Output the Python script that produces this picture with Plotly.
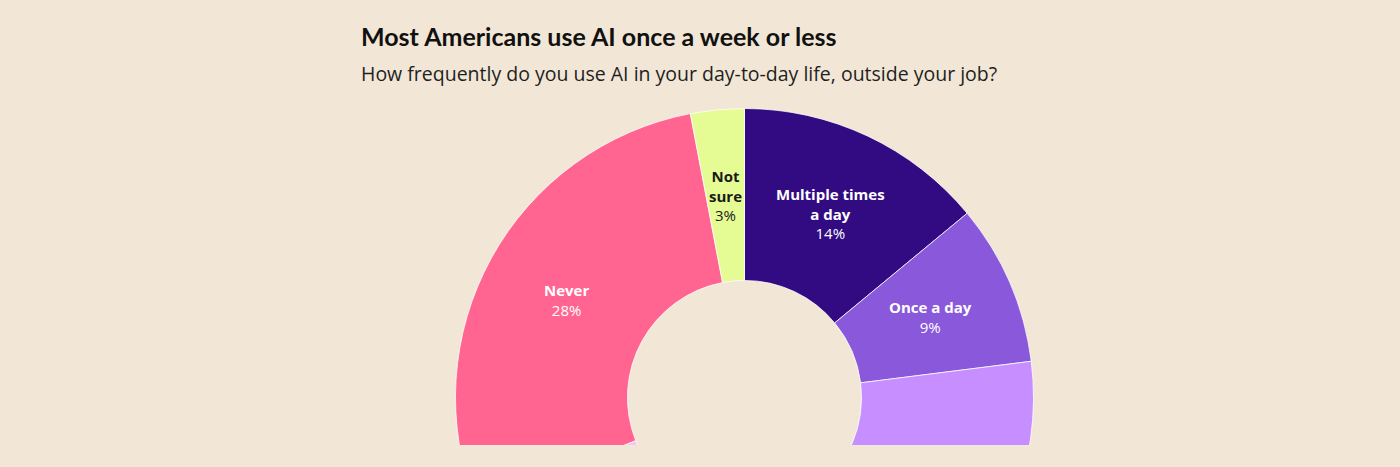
import math
import plotly.graph_objects as go

# ---- data ----
categories = ["Multiple times a day", "Once a day", "A few times a week",
              "About once a week", "Less than once a week", "Never", "Not sure"]
label_text = ["Multiple times<br>a day", "Once a day", "", "", "", "Never", "Not<br>sure"]
values = [14, 9, 17, 11, 18, 28, 3]
colors = ["#320B83", "#8A58DA", "#C78EFF", "#DDB2FA", "#F2C8F0", "#FF6590", "#E5FB94"]
text_colors = ["white", "white", "white", "white", "white", "white", "#1a1a1a"]

title = "Most Americans use AI once a week or less"
subtitle = "How frequently do you use AI in your day-to-day life, outside your job?"

BG = "#F2E7D6"
W, H = 1400, 720
VISIBLE_H = 445

# pie domain (pixels from top-left)
px_x0, px_x1 = 455.5, 1033.5
px_y0, px_y1 = 108.5, 686.5
HOLE = 0.405

fig = go.Figure(go.Pie(
    labels=categories,
    values=values,
    textinfo="none",
    marker=dict(colors=colors, line=dict(color="rgba(255,255,255,0.75)", width=1)),
    hole=HOLE,
    sort=False,
    direction="clockwise",
    rotation=0,
    showlegend=False,
    domain=dict(x=[px_x0 / W, px_x1 / W], y=[(H - px_y1) / H, (H - px_y0) / H]),
    hoverinfo="label+percent",
))

# slice labels placed at the middle of each slice (angle from the data)
cx = (px_x0 + px_x1) / 2
cy = (px_y0 + px_y1) / 2
R = (px_x1 - px_x0) / 2
rm = R * (1 + HOLE) / 2
total = sum(values)
annotations = []
cum = 0
for lab, v, tc in zip(label_text, values, text_colors):
    mid = 90 - 360 * (cum + v / 2) / total
    cum += v
    if not lab:
        continue
    ax = cx + rm * math.cos(math.radians(mid))
    ay = cy - rm * math.sin(math.radians(mid))
    annotations.append(dict(
        text=f"<b>{lab}</b><br>{v}%", x=ax / W, y=1 - ay / H,
        xref="paper", yref="paper", xanchor="center", yanchor="middle",
        showarrow=False, align="center",
        font=dict(family="Open Sans, sans-serif", size=15, color=tc)))

annotations += [
    dict(text=f"<b>{title}</b>", x=359 / W, y=1 - 36 / H, xref="paper", yref="paper",
         xanchor="left", yanchor="middle", showarrow=False,
         font=dict(size=25, color="#111111", family="Lato, Open Sans, sans-serif")),
    dict(text=subtitle, x=359 / W, y=1 - 74 / H, xref="paper", yref="paper",
         xanchor="left", yanchor="middle", showarrow=False,
         font=dict(size=19.5, color="#1f1f1f", family="Open Sans, sans-serif")),
]

fig.update_layout(
    width=W, height=H,
    margin=dict(l=0, r=0, t=0, b=0),
    paper_bgcolor=BG, plot_bgcolor=BG,
    font=dict(family="Open Sans, sans-serif"),
    annotations=annotations,
)

post = ("var gd=document.getElementById('{plot_id}');"
        "gd.parentElement.style.height='" + str(VISIBLE_H) + "px';"
        "gd.parentElement.style.overflow='hidden';"
        "document.body.style.margin='0';"
        "document.documentElement.style.background='" + BG + "';"
        "document.body.style.background='" + BG + "';")
fig.write_html("out.html", post_script=post)
